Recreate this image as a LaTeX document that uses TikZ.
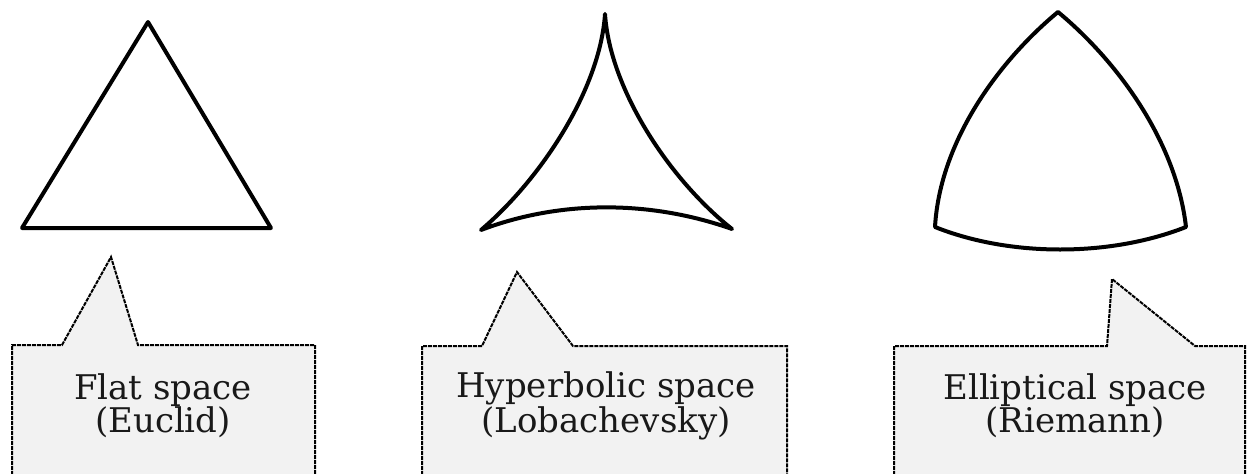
\documentclass[tikz,border=0pt]{standalone}
\usepackage{fontspec}
\setmainfont{DejaVu Serif}
\begin{document}
\begin{tikzpicture}[x=1pt,y=-1pt,
  figline/.style={draw=black,line width=4pt,line join=round},
  callout/.style={draw=black,fill=black!5,line width=2pt,dash pattern=on 4pt off 1pt,line join=miter},
  lbltext/.style={align=center,inner sep=0pt,text=black!90,font=\fontsize{34}{33}\selectfont}]
\clip (0,0) rectangle (1248,474);
\fill[white] (0,0) rectangle (1248,474);
% flat triangle
\draw[figline] (148,22) -- (22,228) -- (271,228) -- cycle;
% hyperbolic triangle
\draw[figline] (605,14) .. controls (610,90) and (670,180) .. (732,229)
  .. controls (650,200) and (560,200) .. (481,230)
  .. controls (540,180) and (600,90) .. (605,14) -- cycle;
% elliptical triangle
\draw[figline] (1058,12) .. controls (1116,60) and (1176,140) .. (1186,227)
  .. controls (1110,257) and (1010,257) .. (935,227)
  .. controls (940,140) and (1000,60) .. (1058,12) -- cycle;
% callouts
\draw[callout] (12,500) -- (12,345) -- (62,345) -- (111,257) -- (138,345) -- (315,345) -- (315,500);
\draw[callout] (422,500) -- (422,346) -- (482,346) -- (517,272) -- (573,346) -- (787,346) -- (787,500);
\draw[callout] (894,500) -- (894,346) -- (1107,346) -- (1112,279) -- (1195,346) -- (1245,346) -- (1245,500);
% labels
\node[lbltext] (flat) at (163,406) {Flat space\\(Euclid)};
\node[lbltext] (hyp) at (606,406) {Hyperbolic space\\(Lobachevsky)};
\node[lbltext] (ell) at (1075,406) {Elliptical space\\(Riemann)};
\end{tikzpicture}
\end{document}
